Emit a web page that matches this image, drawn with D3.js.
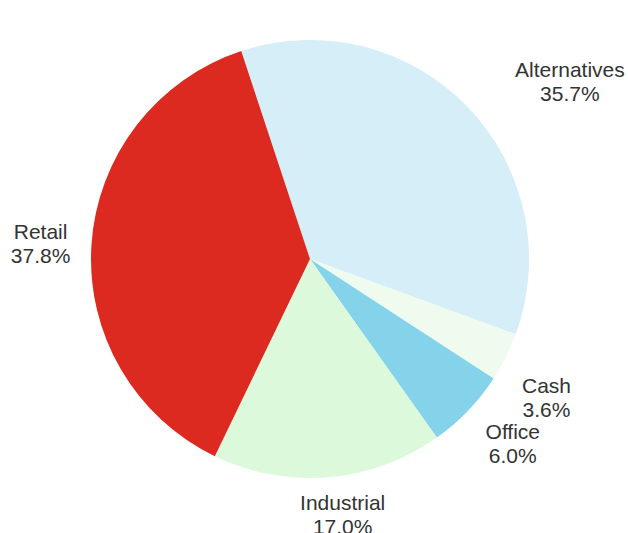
<!DOCTYPE html>
<html lang="en">
<head>
<meta charset="UTF-8">
<title>Allocation pie</title>
<script src="https://d3js.org/d3.v7.min.js"></script>
<style>
  html, body { margin: 0; padding: 0; background: #fff; }
  svg { display: block; }
</style>
</head>
<body>
<svg id="chart"></svg>
<script>
    // slices in clockwise order, starting just left of 12 o'clock
    const categories = ["Alternatives", "Cash", "Office", "Industrial", "Retail"];
    const shares = [35.7, 3.6, 6.0, 17.0, 37.8];
    const colors = ["#d5eef7", "#effbee", "#84d3eb", "#dcf9dc", "#dd2a21"];

    const width = 628, height = 533;
    const cx = 310, cy = 259, radius = 219;
    const labelRadius = 270;
    // small hand nudges so labels sit where the original put them
    const labelNudge = {
        Alternatives: [66, 11],
        Cash: [-5, 18],
        Office: [8, -2],
        Industrial: [10, -13],
        Retail: [0, 3]
    };

    const data = categories.map((c, i) => ({name: c, value: shares[i], color: colors[i]}));

    const svg = d3.select("#chart")
        .attr("width", width)
        .attr("height", height);

    const g = svg.append("g")
        .attr("transform", `translate(${cx},${cy})`);

    const start = -18.3 * Math.PI / 180;
    const pie = d3.pie()
        .sort(null)
        .value(d => d.value)
        .startAngle(start)
        .endAngle(start + 2 * Math.PI);

    const arc = d3.arc().innerRadius(0).outerRadius(radius);
    const arcs = pie(data);

    g.selectAll("path.slice")
        .data(arcs)
        .join("path")
        .attr("class", "slice")
        .attr("d", arc)
        .attr("fill", d => d.data.color);

    const labels = g.selectAll("text.lbl")
        .data(arcs)
        .join("text")
        .attr("class", "lbl")
        .attr("text-anchor", "middle")
        .style("font-family", "'Liberation Sans', Arial, sans-serif")
        .style("font-size", "21px")
        .style("fill", "#333")
        .attr("transform", d => {
            const mid = (d.startAngle + d.endAngle) / 2;
            const n = labelNudge[d.data.name] || [0, 0];
            const x = labelRadius * Math.sin(mid) + n[0];
            const y = -labelRadius * Math.cos(mid) + n[1];
            return `translate(${x},${y})`;
        });

    labels.append("tspan")
        .attr("x", 0)
        .attr("y", -5)
        .text(d => d.data.name);

    labels.append("tspan")
        .attr("x", 0)
        .attr("y", 19)
        .text(d => d.data.value.toFixed(1) + "%");
</script>
</body>
</html>
